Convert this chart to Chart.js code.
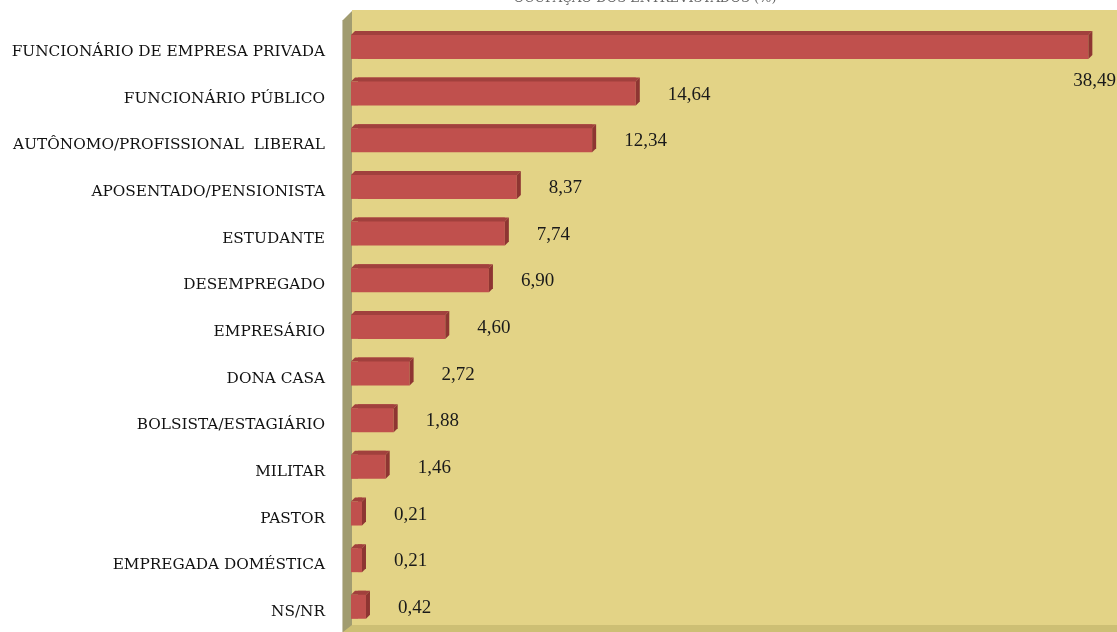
<!DOCTYPE html>
<html>
<head>
<meta charset="utf-8">
<script src="https://cdn.jsdelivr.net/npm/chart.js@4.4.1/dist/chart.umd.min.js"></script>
<style>
html,body{margin:0;padding:0;background:#fff;}
#wrap{width:1117px;height:632px;position:relative;}
</style>
</head>
<body>
<div id="wrap"><canvas id="c" width="1117" height="632"></canvas></div>
<script>
const chartTitle = "OCUPAÇÃO DOS ENTREVISTADOS (%)";
const categories = [
  "FUNCIONÁRIO DE EMPRESA PRIVADA",
  "FUNCIONÁRIO PÚBLICO",
  "AUTÔNOMO/PROFISSIONAL  LIBERAL",
  "APOSENTADO/PENSIONISTA",
  "ESTUDANTE",
  "DESEMPREGADO",
  "EMPRESÁRIO",
  "DONA CASA",
  "BOLSISTA/ESTAGIÁRIO",
  "MILITAR",
  "PASTOR",
  "EMPREGADA DOMÉSTICA",
  "NS/NR"
];
const values = [38.49, 14.64, 12.34, 8.37, 7.74, 6.90, 4.60, 2.72, 1.88, 1.46, 0.21, 0.21, 0.42];
const xMin = 0, xMax = 40;

const SERIF = '"DejaVu Serif", "Liberation Serif", serif';
const VSERIF = '"Liberation Serif", "DejaVu Serif", serif';

const wallPlugin = {
  id: 'wall',
  beforeDatasetsDraw(chart) {
    const ctx = chart.ctx, a = chart.chartArea;
    const W = chart.width, H = chart.height;
    const wl = a.left - 6;
    ctx.save();
    ctx.fillStyle = '#E3D386';
    ctx.fillRect(wl, 10, W - wl, H - 10);
    ctx.fillStyle = '#A19C70';
    ctx.beginPath();
    ctx.moveTo(wl - 9, 20);
    ctx.lineTo(wl, 11);
    ctx.lineTo(wl, H);
    ctx.lineTo(wl - 9, H);
    ctx.closePath();
    ctx.fill();
    ctx.strokeStyle = '#C9C6B0';
    ctx.lineWidth = 1;
    ctx.beginPath();
    ctx.moveTo(wl - 9.5, 20);
    ctx.lineTo(wl - 9.5, H);
    ctx.stroke();
    ctx.fillStyle = '#CDBF74';
    ctx.beginPath();
    ctx.moveTo(wl - 9, H);
    ctx.lineTo(wl, H - 7);
    ctx.lineTo(W, H - 7);
    ctx.lineTo(W, H);
    ctx.closePath();
    ctx.fill();
    ctx.fillStyle = '#666';
    ctx.font = '13px ' + SERIF;
    ctx.textAlign = 'center';
    ctx.textBaseline = 'alphabetic';
    ctx.fillText(chartTitle, 645, 2);
    ctx.restore();
  },
  afterDatasetsDraw(chart) {
    const ctx = chart.ctx;
    const meta = chart.getDatasetMeta(0);
    ctx.save();
    meta.data.forEach((el, i) => {
      const p = el.getProps(['x', 'y', 'base', 'height'], true);
      const top = p.y - p.height / 2, bot = p.y + p.height / 2;
      const d = 4, ext = 7;
      // front face extension (depth)
      ctx.fillStyle = '#C0504D';
      ctx.fillRect(p.base - ext, top + d, ext, p.height - d);
      // top face
      ctx.fillStyle = '#A1403D';
      ctx.beginPath();
      ctx.moveTo(p.base - ext, top + d);
      ctx.lineTo(p.x, top + d);
      ctx.lineTo(p.x + d, top);
      ctx.lineTo(p.base - ext + d, top);
      ctx.closePath();
      ctx.fill();
      // side face
      ctx.fillStyle = '#8E3532';
      ctx.beginPath();
      ctx.moveTo(p.x, top + d);
      ctx.lineTo(p.x + d, top);
      ctx.lineTo(p.x + d, bot - d);
      ctx.lineTo(p.x, bot);
      ctx.closePath();
      ctx.fill();
      // value label
      const txt = values[i].toFixed(2).replace('.', ',');
      ctx.font = '19px ' + VSERIF;
      ctx.fillStyle = '#1a1a1a';
      ctx.textBaseline = 'middle';
      let lx = p.x + d + 28, ly = p.y + 3;
      const w = ctx.measureText(txt).width;
      if (lx + w > chart.width) {
        ctx.textAlign = 'right';
        lx = chart.width - 1;
        ly = p.y + 36;
      } else {
        ctx.textAlign = 'left';
      }
      ctx.fillText(txt, lx, ly);
    });
    ctx.restore();
  }
};

new Chart(document.getElementById('c'), {
  type: 'bar',
  data: {
    labels: categories,
    datasets: [{
      data: values,
      backgroundColor: '#C0504D',
      borderWidth: 0,
      barPercentage: 0.6,
      categoryPercentage: 1.0
    }]
  },
  options: {
    indexAxis: 'y',
    responsive: false,
    animation: false,
    layout: { padding: { top: 21.6, bottom: 1.6, right: 0, left: 0 } },
    plugins: { legend: { display: false }, tooltip: { enabled: false }, title: { display: false } },
    scales: {
      x: { min: xMin, max: xMax, display: false },
      y: {
        afterFit(scale) { scale.width = 358; },
        grid: { display: false, drawTicks: true, tickLength: 33 },
        border: { display: false },
        ticks: { color: '#111', font: { family: SERIF, size: 15.3, lineHeight: 0.5 }, padding: 0, labelOffset: 7, autoSkip: false }
      }
    }
  },
  plugins: [wallPlugin]
});
</script>
</body>
</html>
